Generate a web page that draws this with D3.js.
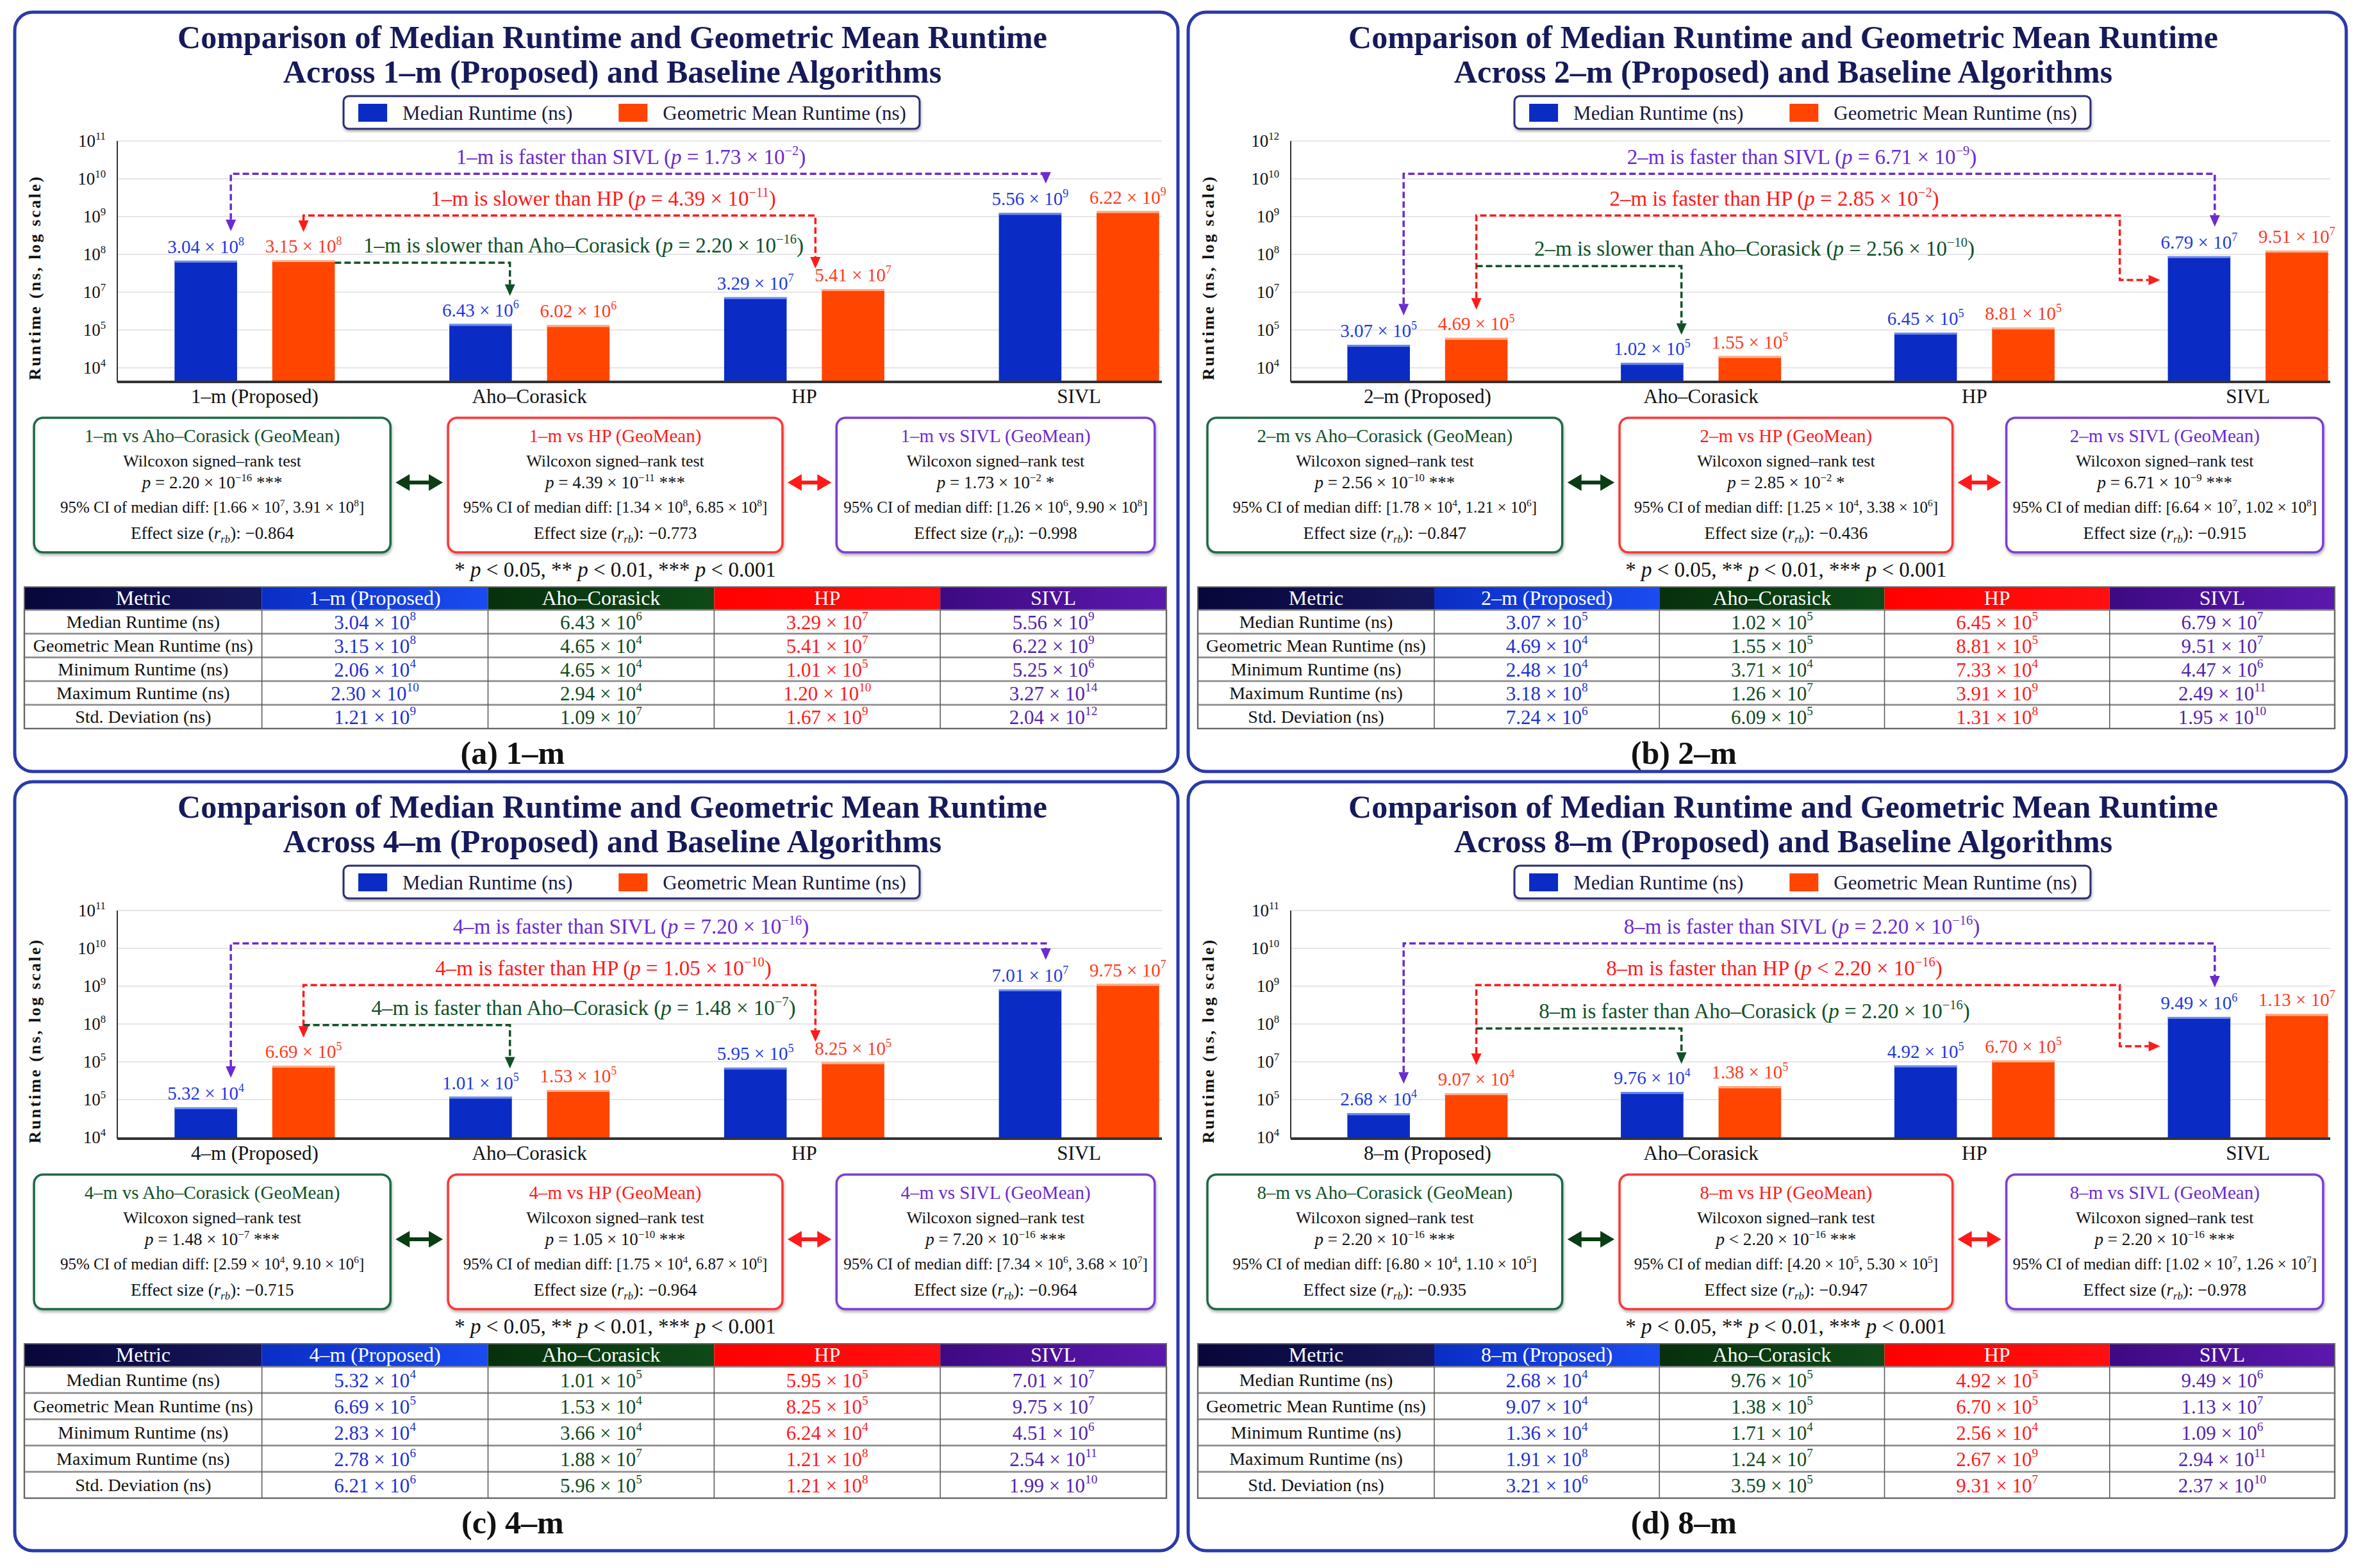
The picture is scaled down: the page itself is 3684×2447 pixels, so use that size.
<!DOCTYPE html>
<html>
<head>
<meta charset="utf-8">
<script src="https://cdn.jsdelivr.net/npm/d3@7"></script>
<style>
  body { margin: 0; background: #fff; }
  svg { display: block; }
  text { font-family: "Liberation Serif", "Times New Roman", serif; }
</style>
</head>
<body>
<svg id="chart"></svg>
<script>
const width = 3684
const height = 2447

// ---- data ----
const configs = ['1–m', '2–m', '4–m', '8–m']
const captionLetters = ['a', 'b', 'c', 'd']
const algorithms = ['Proposed', 'Aho–Corasick', 'HP', 'SIVL']
const seriesKeys = ['median', 'geo']
const seriesNames = ['Median Runtime (ns)', 'Geometric Mean Runtime (ns)']

// values printed above the bars
const barMedian = [
  [3.04e8, 6.43e6, 3.29e7, 5.56e9],
  [3.07e5, 1.02e5, 6.45e5, 6.79e7],
  [5.32e4, 1.01e5, 5.95e5, 7.01e7],
  [2.68e4, 9.76e4, 4.92e5, 9.49e6]
]
const barGeoMean = [
  [3.15e8, 6.02e6, 5.41e7, 6.22e9],
  [4.69e5, 1.55e5, 8.81e5, 9.51e7],
  [6.69e5, 1.53e5, 8.25e5, 9.75e7],
  [9.07e4, 1.38e5, 6.70e5, 1.13e7]
]

// y tick labels as printed (powers of ten, bottom to top)
const yTickExponents = [
  [4, 5, 7, 8, 9, 10, 11],
  [4, 5, 7, 8, 9, 10, 12],
  [4, 5, 5, 8, 9, 10, 11],
  [4, 5, 7, 8, 9, 10, 11]
]
// log10 of the value sitting on the lowest gridline in each panel
const gridBase = [5.65, 4.88, 3.93, 3.79]

// Wilcoxon tests: vs Aho–Corasick, HP, SIVL
const pValues = [
  [2.20e-16, 4.39e-11, 1.73e-2],
  [2.56e-10, 2.85e-2, 6.71e-9],
  [1.48e-7, 1.05e-10, 7.20e-16],
  [2.20e-16, 2.20e-16, 2.20e-16]
]
const pRelation = [
  ['=', '=', '='],
  ['=', '=', '='],
  ['=', '=', '='],
  ['=', '<', '=']
]
const direction = [
  ['slower', 'slower', 'faster'],
  ['slower', 'faster', 'faster'],
  ['faster', 'faster', 'faster'],
  ['faster', 'faster', 'faster']
]
const ciLow = [
  [1.66e7, 1.34e8, 1.26e6],
  [1.78e4, 1.25e4, 6.64e7],
  [2.59e4, 1.75e4, 7.34e6],
  [6.80e4, 4.20e5, 1.02e7]
]
const ciHigh = [
  [3.91e8, 6.85e8, 9.90e8],
  [1.21e6, 3.38e6, 1.02e8],
  [9.10e6, 6.87e6, 3.68e7],
  [1.10e5, 5.30e5, 1.26e7]
]
const effectSize = [
  [-0.864, -0.773, -0.998],
  [-0.847, -0.436, -0.915],
  [-0.715, -0.964, -0.964],
  [-0.935, -0.947, -0.978]
]

// summary tables
const metricNames = ['Median Runtime (ns)', 'Geometric Mean Runtime (ns)', 'Minimum Runtime (ns)', 'Maximum Runtime (ns)', 'Std. Deviation (ns)']
const tableMedian = [
  [3.04e8, 6.43e6, 3.29e7, 5.56e9],
  [3.07e5, 1.02e5, 6.45e5, 6.79e7],
  [5.32e4, 1.01e5, 5.95e5, 7.01e7],
  [2.68e4, 9.76e5, 4.92e5, 9.49e6]
]
const tableGeoMean = [
  [3.15e8, 4.65e4, 5.41e7, 6.22e9],
  [4.69e4, 1.55e5, 8.81e5, 9.51e7],
  [6.69e5, 1.53e4, 8.25e5, 9.75e7],
  [9.07e4, 1.38e5, 6.70e5, 1.13e7]
]
const tableMin = [
  [2.06e4, 4.65e4, 1.01e5, 5.25e6],
  [2.48e4, 3.71e4, 7.33e4, 4.47e6],
  [2.83e4, 3.66e4, 6.24e4, 4.51e6],
  [1.36e4, 1.71e4, 2.56e4, 1.09e6]
]
const tableMax = [
  [2.30e10, 2.94e4, 1.20e10, 3.27e14],
  [3.18e8, 1.26e7, 3.91e9, 2.49e11],
  [2.78e6, 1.88e7, 1.21e8, 2.54e11],
  [1.91e8, 1.24e7, 2.67e9, 2.94e11]
]
const tableStd = [
  [1.21e9, 1.09e7, 1.67e9, 2.04e12],
  [7.24e6, 6.09e5, 1.31e8, 1.95e10],
  [6.21e6, 5.96e5, 1.21e8, 1.99e10],
  [3.21e6, 3.59e5, 9.31e7, 2.37e10]
]

// ---- layout / style ----
const panels = [
  {x: 23, y: 19, w: 1815, h: 1185},
  {x: 1854, y: 19, w: 1807, h: 1185},
  {x: 23, y: 1220, w: 1815, h: 1200},
  {x: 1854, y: 1220, w: 1807, h: 1200}
]
const baseGap = [22, 22, 2, 2]            // baseline below lowest gridline (px)
const greenLevel = [2.78, 2.69, 2.97, 2.88] // bracket heights, in gridline steps
const hpTarget = ['HP', 'SIVL', 'HP', 'SIVL']
const elbowLevel = [0, 2.32, 0, 2.41]
const labelShift = [-20, 11, 54]            // annotation text offset from panel centre

const seriesColor = {median: '#0a2cc4', geo: '#ff4500'}
const seriesCap = {median: '#6f8cf0', geo: '#ffb08a'}
const labelColor = {median: '#1d39e0', geo: '#ff3a1c'}
const cmpText = ['#0f5128', '#ff1a1a', '#6a2bd0']
const cmpBorder = ['#1d6a44', '#ff3434', '#7b3dd2']
const headerColors = [['#07073a', '#16165c'], ['#0a2ec4', '#1a4cf0'], ['#07300c', '#0e4a18'], ['#ff0000', '#ff1010'], ['#3d0a82', '#5c18ae']]
const colText = ['#1c30d6', '#0f4a20', '#ff1a1a', '#5423b0']

const svg = d3.select('#chart').attr('width', width).attr('height', height)
const defs = svg.append('defs')
const shadow = defs.append('filter').attr('id', 'shadow').attr('x', '-5%').attr('y', '-5%').attr('width', '110%').attr('height', '115%')
shadow.append('feDropShadow').attr('dx', 1).attr('dy', 3).attr('stdDeviation', 2).attr('flood-color', '#000').attr('flood-opacity', 0.3)
headerColors.forEach((c, i) => {
  const lg = defs.append('linearGradient').attr('id', 'hdr' + i)
  lg.append('stop').attr('offset', '0%').attr('stop-color', c[0])
  lg.append('stop').attr('offset', '100%').attr('stop-color', c[1])
})

// text with italic / superscript / subscript parts
function rich(sel, parts, fs) {
  let shift = 0
  parts.forEach(p => {
    if (typeof p === 'string') p = {t: p}
    const ts = sel.append('tspan').text(p.t)
    const target = p.sup ? -0.42 * fs : (p.sub ? 0.22 * fs : 0)
    if (target !== shift) { ts.attr('dy', target - shift); shift = target }
    if (p.sup || p.sub) ts.attr('font-size', fs * 0.62)
    if (p.it) ts.attr('font-style', 'italic')
  })
  return sel
}
function sci(v) {
  const e = Math.floor(Math.log10(v) + 1e-9)
  const m = (v / Math.pow(10, e)).toFixed(2)
  return [m + ' × 10', {t: String(e).replace('-', '−'), sup: true}]
}
function addText(g, x, y, fs, parts, opts) {
  const t = g.append('text').attr('x', x).attr('y', y).attr('font-size', fs)
    .attr('text-anchor', (opts && opts.anchor) || 'middle')
    .attr('fill', (opts && opts.fill) || '#111')
  if (opts && opts.weight) t.attr('font-weight', opts.weight)
  return rich(t, parts, fs)
}

function drawPanel(i) {
  const P = panels[i]
  const m = configs[i]
  const W = P.w
  const g = svg.append('g').attr('transform', `translate(${P.x},${P.y})`)

  g.append('rect').attr('width', W).attr('height', P.h).attr('rx', 28)
    .attr('fill', '#fff').attr('stroke', '#2b3aa8').attr('stroke-width', 5)

  // title
  addText(g, W / 2 + 25, 56, 50, ['Comparison of Median Runtime and Geometric Mean Runtime'], {fill: '#161a5a', weight: 'bold'})
  addText(g, W / 2 + 25, 110, 50, [`Across ${m} (Proposed) and Baseline Algorithms`], {fill: '#161a5a', weight: 'bold'})

  // legend
  const lg = g.append('g')
  let lx = 23
  seriesKeys.forEach((k, j) => {
    lg.append('rect').attr('x', lx).attr('y', 12).attr('width', 45).attr('height', 28).attr('fill', seriesColor[k])
    lx += 45 + 24
    const t = addText(lg, lx, 37, 31, [seriesNames[j]], {anchor: 'start', fill: '#1a1a40'})
    lx += t.node().getComputedTextLength() + 72
  })
  const legW = lx - 72 + 21
  lg.insert('rect', ':first-child').attr('width', legW).attr('height', 51).attr('rx', 8)
    .attr('fill', '#fff').attr('stroke', '#2a2f72').attr('stroke-width', 3).attr('filter', 'url(#shadow)')
  lg.attr('transform', `translate(${W / 2 + 55 - legW / 2},131)`)

  // scales
  const plotL = 160, plotR = W - 25, top = 201, tick0 = 555
  const base = tick0 + baseGap[i]
  const step = (tick0 - top) / 6
  const b0 = gridBase[i]
  const y = d3.scaleLog()
    .domain([Math.pow(10, b0 - baseGap[i] / step), Math.pow(10, b0 + 6)])
    .range([base, top])
  const lvl = s => y(Math.pow(10, b0 + s))
  const x0 = d3.scaleBand().domain(algorithms).range([plotL, plotR + 85]).padding(0)
  const x1 = d3.scaleBand().domain(seriesKeys).range([-125, 125]).paddingInner(0.36)
  const bw = x1.bandwidth()
  const cx = a => x0(a) + x0.bandwidth() / 2
  const bx = (a, k) => cx(a) + x1(k)

  const rows = algorithms.map((a, j) => ({alg: a, median: barMedian[i][j], geo: barGeoMean[i][j]}))
  const topOf = (a, k) => y(rows[algorithms.indexOf(a)][k])

  // grid + y ticks
  const gridVals = d3.range(7).map(k => Math.pow(10, b0 + k))
  g.selectAll('.grid').data(gridVals).enter().append('line')
    .attr('x1', plotL).attr('x2', plotR).attr('y1', d => y(d)).attr('y2', d => y(d))
    .attr('stroke', '#e6e6e6').attr('stroke-width', 2)
  gridVals.forEach((v, k) => {
    addText(g, plotL - 18, y(v) + 9, 27, ['10', {t: String(yTickExponents[i][k]), sup: true}], {anchor: 'end'})
  })
  g.append('line').attr('x1', plotL).attr('x2', plotL).attr('y1', top).attr('y2', base)
    .attr('stroke', '#333').attr('stroke-width', 2)

  // y title
  g.append('text').attr('transform', `translate(40,${(top + base) / 2 + 25}) rotate(-90)`)
    .attr('text-anchor', 'middle').attr('font-size', 26).attr('font-weight', 'bold')
    .attr('letter-spacing', 3).attr('fill', '#111').text('Runtime (ns, log scale)')

  // bars
  const bars = g.selectAll('.grp').data(rows).enter().append('g')
  seriesKeys.forEach(k => {
    bars.append('rect').attr('x', d => bx(d.alg, k)).attr('width', bw)
      .attr('y', d => y(d[k])).attr('height', d => base - y(d[k])).attr('fill', seriesColor[k])
    bars.append('rect').attr('x', d => bx(d.alg, k)).attr('width', bw)
      .attr('y', d => y(d[k])).attr('height', 3).attr('fill', seriesCap[k])
    bars.each(function (d) {
      addText(d3.select(this), bx(d.alg, k) + bw / 2, y(d[k]) - 12, 29, sci(d[k]), {fill: labelColor[k]})
    })
  })
  g.append('line').attr('x1', plotL).attr('x2', plotR).attr('y1', base).attr('y2', base)
    .attr('stroke', '#333').attr('stroke-width', 4)

  // category labels
  algorithms.forEach((a, j) => {
    addText(g, cx(a), base + 33, 31, [j === 0 ? `${m} (Proposed)` : a])
  })

  // comparison brackets
  const ann = g.append('g')
  const arrowDown = (x, yy, c) => ann.append('path').attr('d', `M${x - 8},${yy - 18}L${x + 8},${yy - 18}L${x},${yy}Z`).attr('fill', c)
  const arrowRight = (x, yy, c) => ann.append('path').attr('d', `M${x - 18},${yy - 8}L${x - 18},${yy + 8}L${x},${yy}Z`).attr('fill', c)
  const dashed = (d, c) => ann.append('path').attr('d', d).attr('fill', 'none').attr('stroke', c)
    .attr('stroke-width', 3.5).attr('stroke-dasharray', '10,5')
  const annLabel = (k, level) => {
    const parts = [`${m} is ${direction[i][k]} than ${algorithms[k + 1]} (`, {t: 'p', it: true}, ` ${pRelation[i][k]} `]
      .concat(sci(pValues[i][k])).concat([')'])
    addText(ann, W / 2 + labelShift[k], lvl(level) + 11, 33, parts, {fill: cmpText[k]})
  }

  // vs SIVL
  {
    const c = cmpText[2], yh = lvl(5.13)
    const lxp = bx('Proposed', 'median') + bw * 0.9, ltip = topOf('Proposed', 'median') - 46
    const rxp = bx('SIVL', 'median') + bw * 0.75, rtip = topOf('SIVL', 'median') - 46
    dashed(`M${lxp},${ltip - 18}V${yh}H${rxp}V${rtip - 18}`, c)
    arrowDown(lxp, ltip, c); arrowDown(rxp, rtip, c)
    annLabel(2, 5.58)
  }
  // vs HP
  {
    const c = cmpText[1], yh = lvl(4.03)
    const lxp = bx('Proposed', 'geo') + bw / 2, ltip = topOf('Proposed', 'geo') - 44
    arrowDown(lxp, ltip, c)
    if (hpTarget[i] === 'HP') {
      const rxp = bx('HP', 'geo') - 10, rtip = Math.min(topOf('HP', 'median'), topOf('HP', 'geo')) - 32
      dashed(`M${lxp},${ltip - 18}V${yh}H${rxp}V${rtip - 18}`, c)
      arrowDown(rxp, rtip, c)
    } else {
      const ex = bx('SIVL', 'median') - 75, ey = lvl(elbowLevel[i]), tx = bx('SIVL', 'median') - 12
      dashed(`M${lxp},${ltip - 18}V${yh}H${ex}V${ey}H${tx - 18}`, c)
      arrowRight(tx, ey, c)
    }
    annLabel(1, 4.47)
  }
  // vs Aho–Corasick
  {
    const c = cmpText[0], gl = greenLevel[i], yh = lvl(gl)
    const sx = yh > topOf('Proposed', 'geo') - 10 ? bx('Proposed', 'geo') + bw : bx('Proposed', 'geo') + bw / 2
    const ex = bx('Aho–Corasick', 'median') + bw - 3, tip = topOf('Aho–Corasick', 'median') - 44
    dashed(`M${sx},${yh}H${ex}V${tip - 18}`, c)
    arrowDown(ex, tip, c)
    annLabel(0, gl + 0.46)
  }

  // test boxes
  const boxTop = base + 56, boxH = 210
  const boxX = [[0.0166, 0.323], [0.3725, 0.66], [0.7065, 0.98]].map(r => [r[0] * W, r[1] * W])
  boxX.forEach((bxr, k) => {
    const bxg = g.append('g')
    bxg.append('rect').attr('x', bxr[0]).attr('y', boxTop).attr('width', bxr[1] - bxr[0]).attr('height', boxH)
      .attr('rx', 14).attr('fill', '#fff').attr('stroke', cmpBorder[k]).attr('stroke-width', 3.5).attr('filter', 'url(#shadow)')
    const mx = (bxr[0] + bxr[1]) / 2
    addText(bxg, mx, boxTop + 38, 29, [`${m} vs ${algorithms[k + 1]} (GeoMean)`], {fill: cmpText[k]})
    addText(bxg, mx, boxTop + 76, 26, ['Wilcoxon signed–rank test'])
    const pv = pValues[i][k]
    const stars = pv < 0.001 ? '***' : pv < 0.01 ? '**' : '*'
    addText(bxg, mx, boxTop + 110, 27, [{t: 'p', it: true}, ` ${pRelation[i][k]} `].concat(sci(pv)).concat([' ' + stars]))
    addText(bxg, mx, boxTop + 148, 25, ['95% CI of median diff: ['].concat(sci(ciLow[i][k])).concat([', ']).concat(sci(ciHigh[i][k])).concat([']']))
    addText(bxg, mx, boxTop + 189, 27, ['Effect size (', {t: 'r', it: true}, {t: 'rb', it: true, sub: true}, '): ' + String(effectSize[i][k].toFixed(3)).replace('-', '−')])
  })
  // double arrows between boxes
  const dbl = (xa, xb, yy, c) => {
    g.append('line').attr('x1', xa + 16).attr('x2', xb - 16).attr('y1', yy).attr('y2', yy).attr('stroke', c).attr('stroke-width', 6)
    g.append('path').attr('d', `M${xa},${yy}L${xa + 22},${yy - 13}L${xa + 22},${yy + 13}Z`).attr('fill', c)
    g.append('path').attr('d', `M${xb},${yy}L${xb - 22},${yy - 13}L${xb - 22},${yy + 13}Z`).attr('fill', c)
  }
  dbl(boxX[0][1] + 8, boxX[1][0] - 8, boxTop + 101, '#0a3d14')
  dbl(boxX[1][1] + 8, boxX[2][0] - 8, boxTop + 101, '#ff1a1a')

  // significance note
  const noteY = boxTop + boxH + 38
  addText(g, (boxX[1][0] + boxX[1][1]) / 2, noteY, 33,
    ['* ', {t: 'p', it: true}, ' < 0.05, ** ', {t: 'p', it: true}, ' < 0.01, *** ', {t: 'p', it: true}, ' < 0.001'])

  // table
  const tTop = boxTop + boxH + 54, tBot = 1118, tL = 15, tR = W - 18
  const hdrH = 36, rowH = (tBot - tTop - hdrH) / 5
  const firstW = (tR - tL) * 0.208
  const colEdges = [tL, tL + firstW].concat(d3.range(1, 5).map(k => tL + firstW + k * (tR - tL - firstW) / 4))
  const headers = ['Metric', `${m} (Proposed)`].concat(algorithms.slice(1))
  headers.forEach((h, c) => {
    g.append('rect').attr('x', colEdges[c]).attr('y', tTop).attr('width', colEdges[c + 1] - colEdges[c]).attr('height', hdrH)
      .attr('fill', `url(#hdr${c})`)
    addText(g, (colEdges[c] + colEdges[c + 1]) / 2, tTop + 28, 32, [h], {fill: '#fff'})
  })
  const tableRows = [tableMedian, tableGeoMean, tableMin, tableMax, tableStd]
  tableRows.forEach((arr, r) => {
    const ry = tTop + hdrH + r * rowH
    g.append('rect').attr('x', tL).attr('y', ry).attr('width', tR - tL).attr('height', rowH)
      .attr('fill', '#fff').attr('stroke', '#8a8a8a').attr('stroke-width', 2.5)
    addText(g, (colEdges[0] + colEdges[1]) / 2, ry + rowH / 2 + 9, 28, [metricNames[r]])
    arr[i].forEach((v, c) => {
      addText(g, (colEdges[c + 1] + colEdges[c + 2]) / 2, ry + rowH / 2 + 11, 31, sci(v), {fill: colText[c]})
    })
  })
  colEdges.slice(1, 5).forEach(xe => {
    g.append('line').attr('x1', xe).attr('x2', xe).attr('y1', tTop + hdrH).attr('y2', tBot).attr('stroke', '#555').attr('stroke-width', 1.5)
  })
  g.append('rect').attr('x', tL).attr('y', tTop).attr('width', tR - tL).attr('height', tBot - tTop)
    .attr('fill', 'none').attr('stroke', '#666').attr('stroke-width', 2)

  // caption
  addText(g, W * 0.428, 1173, 50, [`(${captionLetters[i]}) ${m}`], {weight: 'bold'})
}

configs.forEach((c, i) => drawPanel(i))
</script>
</body>
</html>
